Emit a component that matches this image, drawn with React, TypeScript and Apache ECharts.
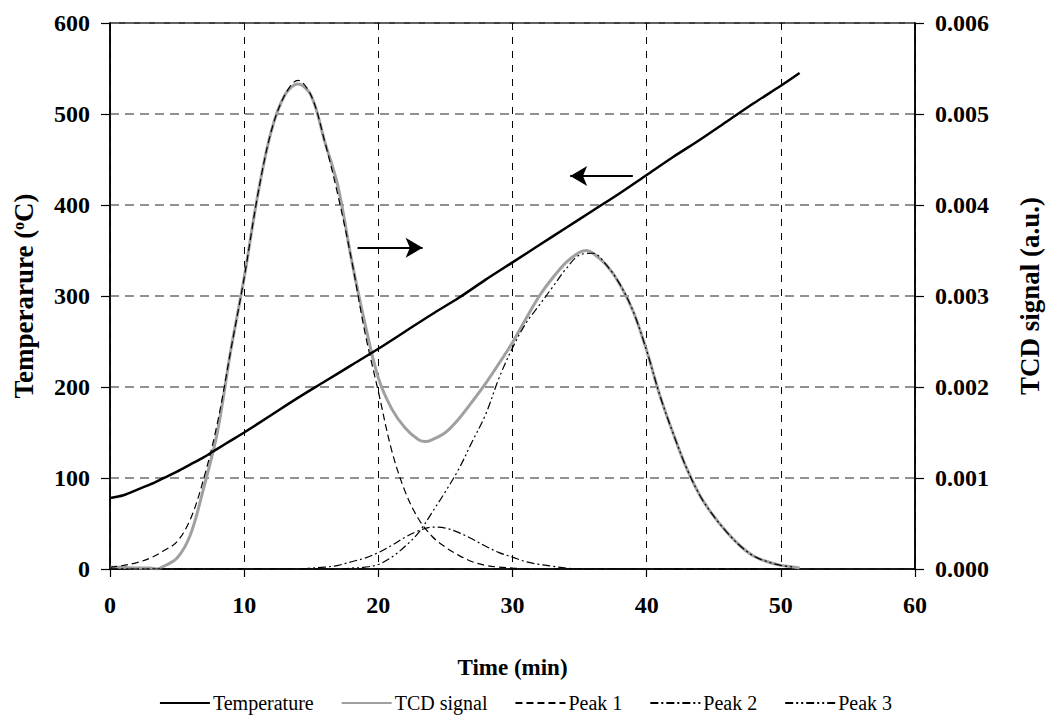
import React, { useEffect, useRef } from 'react';
import * as echarts from 'echarts';

// ---- data ----
const xTicks = [0, 10, 20, 30, 40, 50, 60];

const tempTime = [0, 1, 2, 3, 4, 5, 6, 7, 8, 9, 10, 12, 14, 16, 18, 20, 22, 24, 26, 28, 30, 32, 34, 36, 38, 40, 42, 44, 46, 48, 50, 51.4];
const temperature = [78, 81, 87, 93, 100, 107, 115, 123, 132, 141, 150, 169, 188, 206, 224, 242, 261, 280, 298, 318, 337, 356, 375, 394, 413, 433, 453, 472, 492, 512, 531, 545];

const tcdTime = [0, 1, 2, 3, 3.5, 4, 5, 6, 7, 8, 9, 10, 11, 12, 13, 14, 15, 16, 17, 18, 19, 20, 21, 22, 23, 23.5, 24, 25, 26, 27, 28, 29, 30, 31, 32, 33, 34, 35, 35.5, 36, 37, 38, 39, 40, 41, 42, 43, 44, 45, 46, 47, 48, 49, 50, 51, 51.4];
const tcdSignal = [0.00002, 0.00002, 0.00001, 0.00001, 0, 0.00003, 0.00012, 0.00038, 0.0009, 0.0015, 0.0024, 0.0032, 0.0041, 0.0048, 0.0052, 0.00533, 0.0052, 0.0047, 0.0042, 0.0034, 0.0027, 0.0021, 0.00176, 0.00155, 0.00142, 0.0014, 0.00142, 0.0015, 0.00165, 0.00184, 0.00204, 0.00226, 0.00249, 0.00275, 0.003, 0.0032, 0.00337, 0.00348, 0.0035, 0.00347, 0.00334, 0.00313, 0.00283, 0.0024, 0.0019, 0.00148, 0.0011, 0.0008, 0.00058, 0.0004, 0.00025, 0.00014, 0.00008, 0.00004, 0.00002, 0.00001];

const peakTime = [0, 1, 2, 3, 4, 5, 6, 7, 8, 9, 10, 11, 12, 13, 14, 15, 16, 17, 18, 19, 20, 21, 22, 23, 24, 25, 26, 27, 28, 29, 30, 31, 32, 33, 34, 35, 36, 37, 38, 39, 40, 41, 42, 43, 44, 45, 46, 47, 48, 49, 50, 51];
const peak1 = [0.00002, 0.00004, 0.00007, 0.00012, 0.0002, 0.0003, 0.00055, 0.001, 0.0016, 0.0024, 0.0032, 0.0041, 0.0048, 0.0052, 0.00537, 0.0052, 0.0047, 0.0041, 0.0034, 0.0026, 0.00195, 0.0013, 0.00085, 0.00055, 0.00036, 0.00024, 0.00015, 0.00008, 0.00004, 0.00002, 0.00001, 0, 0, 0, 0, 0, 0, 0, 0, 0, 0, 0, 0, 0, 0, 0, 0, 0, 0, 0, 0, 0];
const peak2 = [0, 0, 0, 0, 0, 0, 0, 0, 0, 0, 0, 0, 0, 0, 0, 0.00001, 0.00002, 0.00004, 0.00008, 0.00012, 0.00018, 0.00026, 0.00035, 0.00042, 0.00046, 0.00045, 0.0004, 0.00033, 0.00025, 0.00018, 0.00013, 0.00008, 0.00005, 0.00003, 0.00001, 0, 0, 0, 0, 0, 0, 0, 0, 0, 0, 0, 0, 0, 0, 0, 0, 0];
const peak3 = [0, 0, 0, 0, 0, 0, 0, 0, 0, 0, 0, 0, 0, 0, 0, 0, 0, 0, 0.00001, 0.00002, 0.00005, 0.00013, 0.00025, 0.0004, 0.00062, 0.00085, 0.0011, 0.0014, 0.0017, 0.0021, 0.00243, 0.0027, 0.0029, 0.0031, 0.0033, 0.00345, 0.00347, 0.00334, 0.00313, 0.00283, 0.0024, 0.0019, 0.00148, 0.0011, 0.0008, 0.00058, 0.0004, 0.00025, 0.00014, 0.00008, 0.00004, 0.00002];

// annotation arrows (data coordinates)
const tempArrow = [[38.97, 432], [34.3, 432]];
const tcdArrow = [[18.45, 0.00353], [23.3, 0.00353]];

const seriesNames = ['Temperature', 'TCD signal', 'Peak 1', 'Peak 2', 'Peak 3'];

const FONT = '"Liberation Serif", "Times New Roman", serif';

const pairs = (xs: number[], ys: number[]) => xs.map((x, i) => [x, ys[i]]);

export default function App() {
  const ref = useRef<HTMLDivElement>(null);
  useEffect(() => {
    const chart = echarts.init(ref.current!, null, { renderer: 'svg' });
    const arrowLine = (pts: number[][]) => ({
      silent: true,
      symbol: ['none', 'arrow'],
      symbolSize: [15, 17],
      label: { show: false },
      lineStyle: { color: '#000', width: 2, type: 'solid' },
      data: [[{ coord: pts[0] }, { coord: pts[1] }]],
    });
    const tickLabel = { fontFamily: FONT, fontWeight: 'bold', fontSize: 24, color: '#000' };
    const option: any = {
      animation: false,
      backgroundColor: '#fff',
      grid: { left: 110, right: 128, top: 23, bottom: 155, show: true, borderColor: '#000', borderWidth: 1.5, backgroundColor: 'transparent' },
      legend: {
        data: seriesNames,
        bottom: 6,
        left: 'center',
        itemWidth: 50,
        itemHeight: 12,
        itemGap: 27,
        itemStyle: { opacity: 0 },
        textStyle: { fontFamily: FONT, fontSize: 20, color: '#000', padding: [0, 0, 0, -2] },
      },
      xAxis: {
        type: 'value',
        min: xTicks[0],
        max: xTicks[xTicks.length - 1],
        interval: 10,
        name: 'Time (min)',
        nameLocation: 'middle',
        nameGap: 87,
        nameTextStyle: { fontFamily: FONT, fontWeight: 'bold', fontSize: 23, color: '#000' },
        axisLine: { lineStyle: { color: '#000', width: 1.5 } },
        axisTick: { length: 8, lineStyle: { color: '#000', width: 1.2 } },
        axisLabel: { ...tickLabel, margin: 24 },
        splitLine: { show: true, lineStyle: { color: '#000', width: 1, type: [7, 7] } },
      },
      yAxis: [
        {
          type: 'value',
          min: 0,
          max: 600,
          interval: 100,
          name: 'Temperarure ({sup|o}C)',
          nameLocation: 'middle',
          nameGap: 73,
          nameTextStyle: {
            fontFamily: FONT, fontWeight: 'bold', fontSize: 27, color: '#000',
            rich: { sup: { fontFamily: FONT, fontWeight: 'bold', fontSize: 16, color: '#000', verticalAlign: 'top', lineHeight: 16 } },
          },
          axisLine: { show: true, lineStyle: { color: '#000', width: 1.5 } },
          axisTick: { show: true, length: 9, lineStyle: { color: '#000', width: 1.2 } },
          axisLabel: { ...tickLabel, margin: 20 },
          splitLine: { show: true, lineStyle: { color: '#6e6e6e', width: 1.5, type: [9, 6] } },
        },
        {
          type: 'value',
          min: 0,
          max: 0.006,
          interval: 0.001,
          position: 'right',
          name: 'TCD signal (a.u.)',
          nameLocation: 'middle',
          nameGap: 101,
          nameRotate: 90,
          nameTextStyle: { fontFamily: FONT, fontWeight: 'bold', fontSize: 27, color: '#000' },
          axisLine: { show: true, lineStyle: { color: '#000', width: 1.5 } },
          axisTick: { show: true, length: 9, lineStyle: { color: '#000', width: 1.2 } },
          axisLabel: { ...tickLabel, margin: 20, formatter: (v: number) => v.toFixed(3) },
          splitLine: { show: false },
        },
      ],
      series: [
        {
          name: seriesNames[0], type: 'line', yAxisIndex: 0, showSymbol: false, symbol: 'none', smooth: 0.3,
          data: pairs(tempTime, temperature),
          lineStyle: { color: '#000', width: 2.5 }, itemStyle: { color: '#000' },
          markLine: arrowLine(tempArrow), z: 3,
        },
        {
          name: seriesNames[1], type: 'line', yAxisIndex: 1, showSymbol: false, symbol: 'none', smooth: 0.35,
          data: pairs(tcdTime, tcdSignal),
          lineStyle: { color: '#a0a0a0', width: 3 }, itemStyle: { color: '#a0a0a0' },
          markLine: arrowLine(tcdArrow), z: 2,
        },
        {
          name: seriesNames[2], type: 'line', yAxisIndex: 1, showSymbol: false, symbol: 'none', smooth: 0.35,
          data: pairs(peakTime, peak1),
          lineStyle: { color: '#000', width: 1.2, type: [7, 4] }, itemStyle: { color: '#000' }, z: 4,
        },
        {
          name: seriesNames[3], type: 'line', yAxisIndex: 1, showSymbol: false, symbol: 'none', smooth: 0.35,
          data: pairs(peakTime, peak2),
          lineStyle: { color: '#000', width: 1.2, type: [8, 3, 2, 3] }, itemStyle: { color: '#000' }, z: 4,
        },
        {
          name: seriesNames[4], type: 'line', yAxisIndex: 1, showSymbol: false, symbol: 'none', smooth: 0.35,
          data: pairs(peakTime, peak3),
          lineStyle: { color: '#000', width: 1.2, type: [8, 3, 2, 3, 2, 3] }, itemStyle: { color: '#000' }, z: 4,
        },
      ],
    };
    chart.setOption(option);
    return () => chart.dispose();
  }, []);
  return <div ref={ref} style={{ position: 'fixed', left: 0, top: 0, width: 1051, height: 724, background: '#fff' }} />;
}
